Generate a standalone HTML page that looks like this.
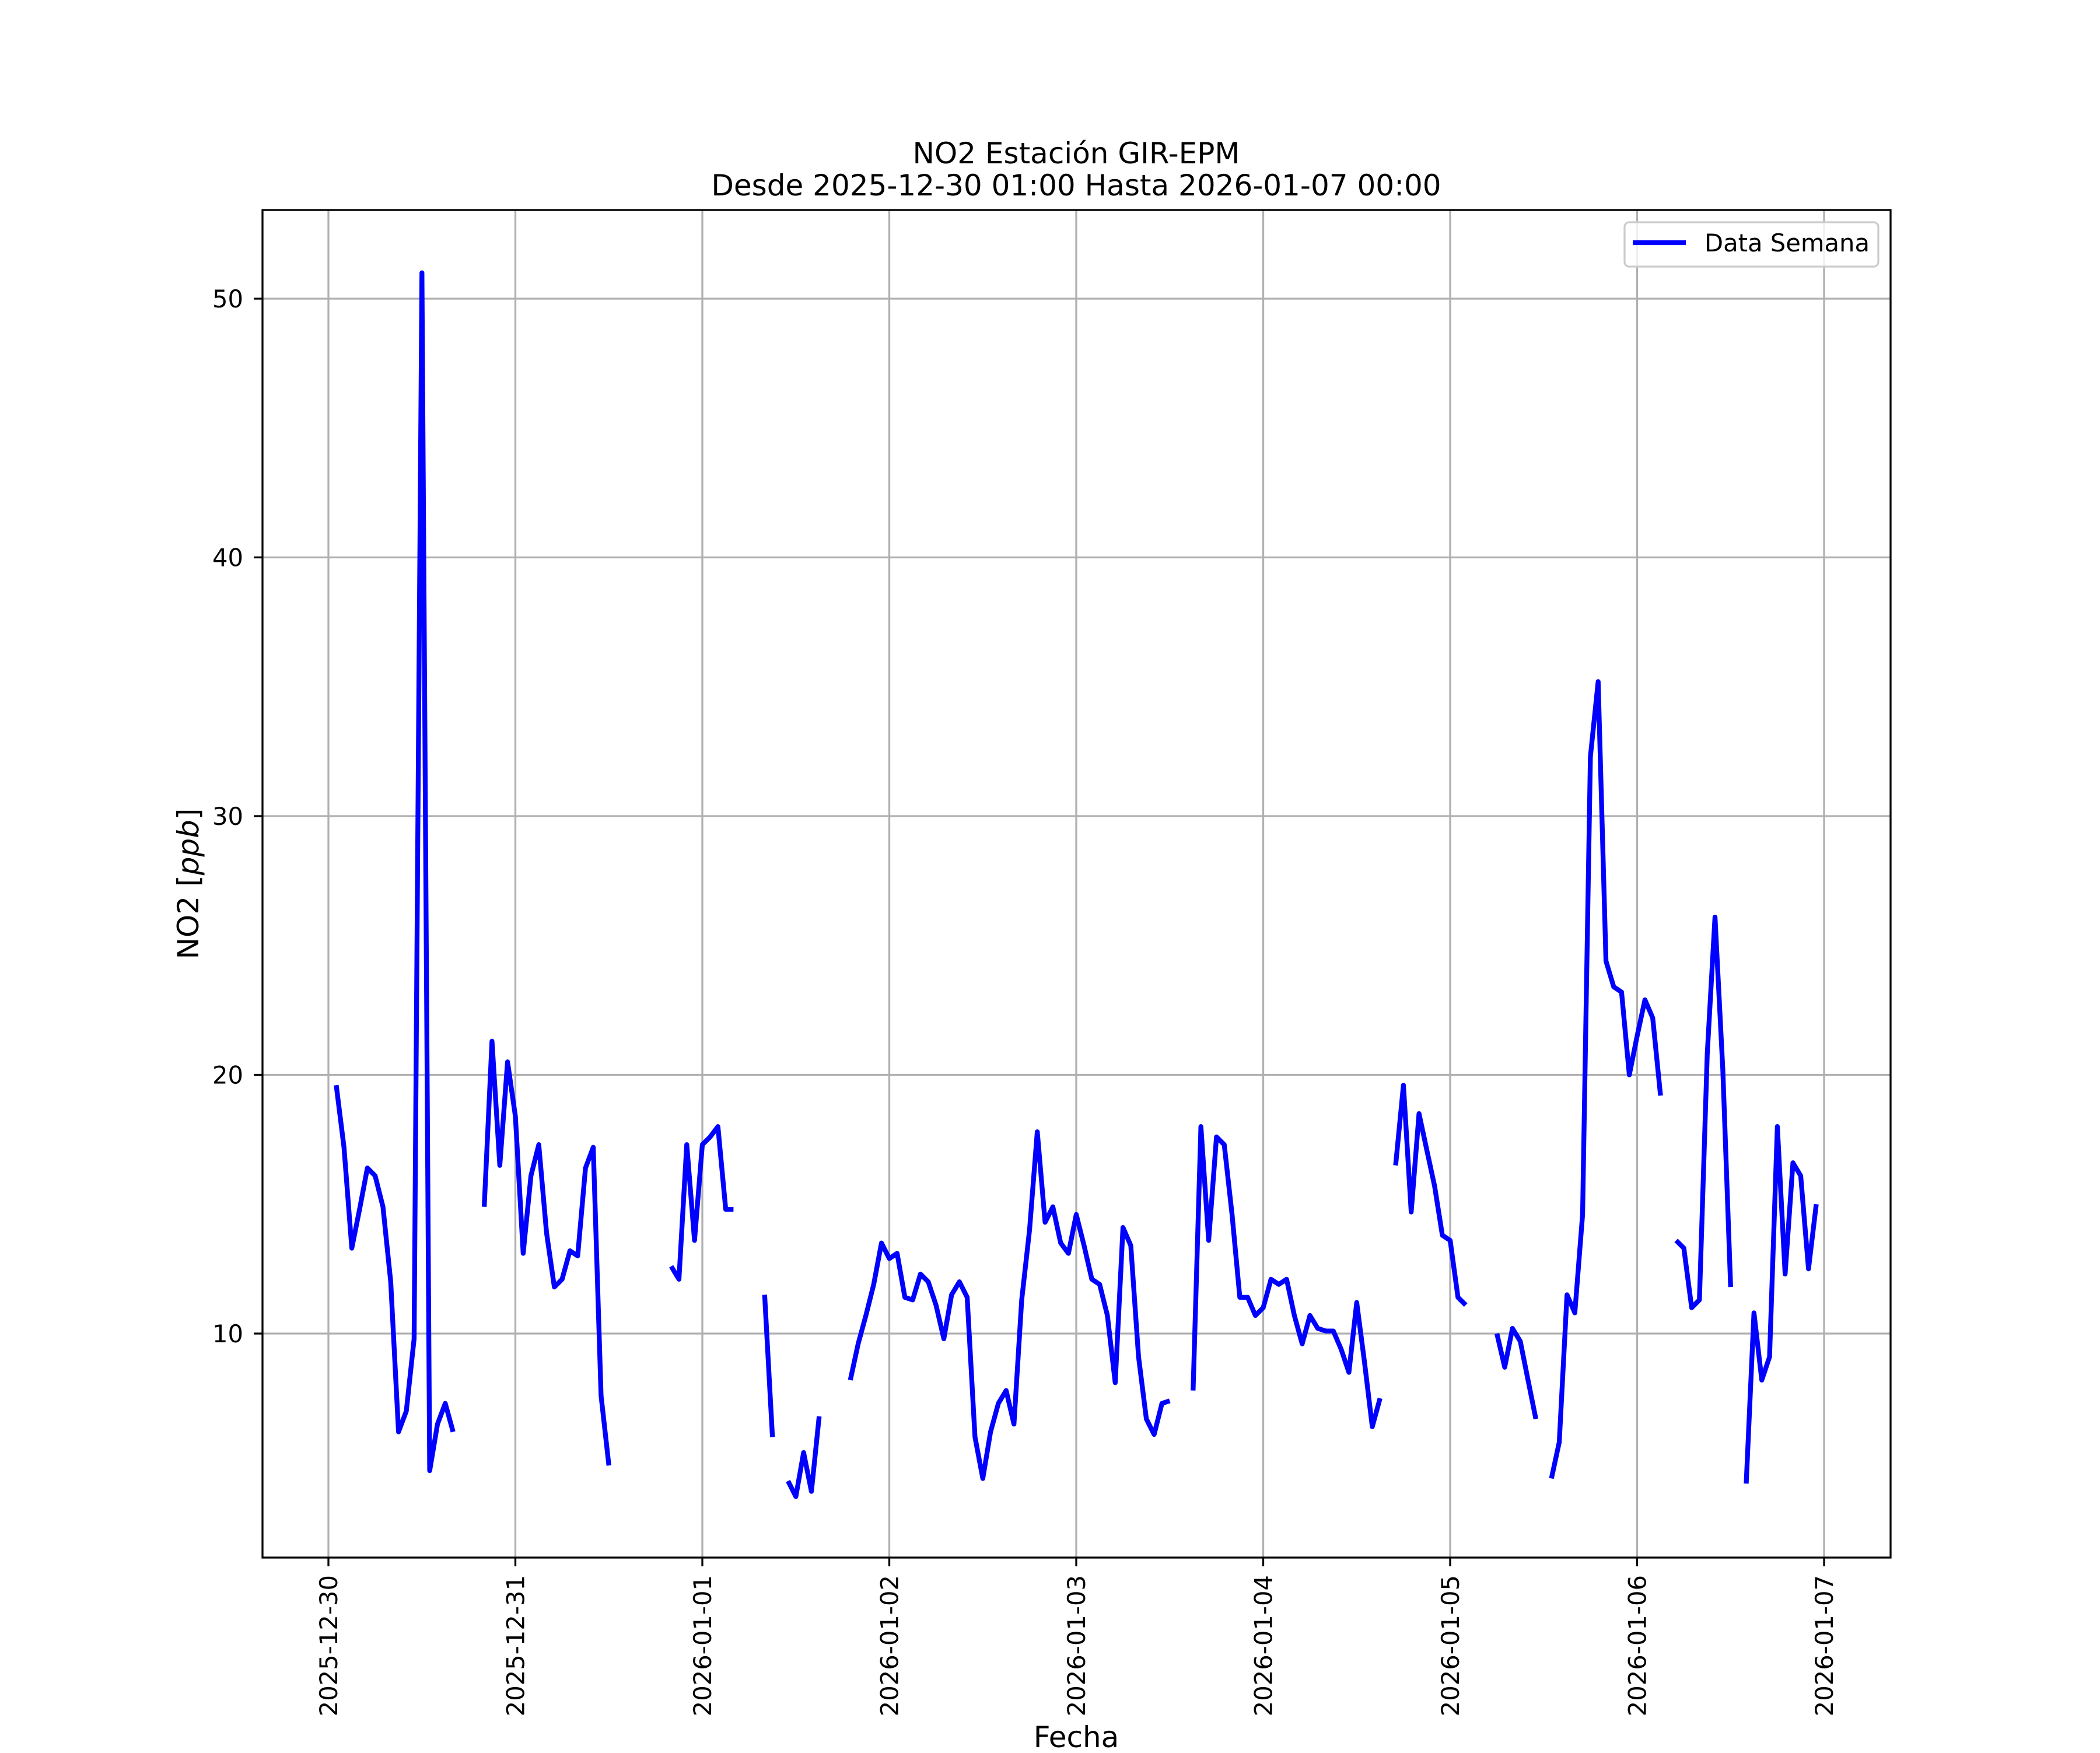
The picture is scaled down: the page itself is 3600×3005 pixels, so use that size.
<!DOCTYPE html>
<html><head><meta charset="utf-8"><style>
body{margin:0;background:#fff}
svg text{font-family:"DejaVu Sans","Liberation Sans",sans-serif}
</style></head><body>
<svg id="chart" width="3600" height="3000" viewBox="0 0 3600 3000" xmlns="http://www.w3.org/2000/svg">
<rect width="3600" height="3000" fill="#fff"/>
<text x="1845" y="280" font-size="50" text-anchor="middle">NO2 Estación GIR-EPM</text>
<text x="1845" y="335" font-size="50" text-anchor="middle">Desde 2025-12-30 01:00 Hasta 2026-01-07 00:00</text>
<g id="grid"></g>
<g id="series"></g>
<rect x="450" y="360" width="2791" height="2310" fill="none" stroke="#000" stroke-width="3.3"/>
<g id="ticks"></g>
<text x="1845" y="2995" font-size="50" text-anchor="middle">Fecha</text>
<text transform="translate(340,1515) rotate(-90)" font-size="50" text-anchor="middle">NO2 [<tspan font-style="italic">ppb</tspan>]</text>
<g>
<rect x="2785" y="381" width="435" height="76" rx="8" fill="#fff" fill-opacity="0.8" stroke="#ccc" stroke-width="3.3"/>
<line x1="2799" y1="416" x2="2890" y2="416" stroke="#0000ff" stroke-width="8.3"/>
<text x="2922" y="431" font-size="41.7">Data Semana</text>
</g>
</svg>
<script>
const dayLabels=["2025-12-30","2025-12-31","2026-01-01","2026-01-02","2026-01-03","2026-01-04","2026-01-05","2026-01-06","2026-01-07"];
const yTicks=[10,20,30,40,50];
const N=null;
const values=[N,
19.6,17.2,13.3,14.8,16.4,16.1,14.9,12.0,6.2,7.0,9.8,51.0,4.7,6.5,7.3,6.2,
N,N,N,
14.9,21.3,16.5,20.5,18.4,13.1,16.1,17.3,13.9,11.8,12.1,13.2,13.0,16.4,17.2,7.6,4.9,
N,N,N,N,N,N,N,
12.6,12.1,17.3,13.6,17.3,17.6,18.0,14.8,14.8,
N,N,N,
11.5,6.0,
N,
4.3,3.7,5.4,3.9,6.8,
N,N,N,
8.2,9.6,10.7,11.9,13.5,12.9,13.1,11.4,11.3,12.3,12.0,11.1,9.8,11.5,12.0,11.4,6.0,4.4,6.2,7.3,7.8,6.5,11.3,14.0,17.8,14.3,14.9,13.5,13.1,14.6,13.4,12.1,11.9,10.7,8.1,14.1,13.4,9.1,6.7,6.1,7.3,7.4,
N,N,
7.8,18.0,13.6,17.6,17.3,14.6,11.4,11.4,10.7,11.0,12.1,11.9,12.1,10.7,9.6,10.7,10.2,10.1,10.1,9.4,8.5,11.2,8.9,6.4,7.5,
N,
16.5,19.6,14.7,18.5,17.1,15.7,13.8,13.6,11.4,11.1,
N,N,N,
10.0,8.7,10.2,9.7,8.2,6.7,
N,
4.4,5.8,11.5,10.8,14.6,32.3,35.2,24.4,23.4,23.2,20.0,21.5,22.9,22.2,19.2,
N,
13.6,13.3,11.0,11.3,20.8,26.1,20.2,11.8,
N,
4.2,10.8,8.2,9.1,18.0,12.3,16.6,16.1,12.5,15.0,
N];
const NS="http://www.w3.org/2000/svg";
const X0=563,DAY=320.5,HOUR=DAY/24;
const xH=h=>X0+h*HOUR;
const yV=v=>512+(50-v)*44.35;
const grid=document.getElementById('grid'),ticks=document.getElementById('ticks'),series=document.getElementById('series');
function mk(tag,attrs,parent){const e=document.createElementNS(NS,tag);for(const k in attrs)e.setAttribute(k,attrs[k]);parent.appendChild(e);return e;}
dayLabels.forEach((d,i)=>{
 const x=xH(i*24);
 const g=mk('line',{x1:x,x2:x,y1:360,y2:2670,stroke:'#b0b0b0','stroke-width':3.3},grid);
 
 
 const t=mk('line',{x1:x,x2:x,y1:2670,y2:2685,stroke:'#000','stroke-width':3.3},ticks);
 
 
 const l=mk('text',{transform:`translate(${x+15},2700) rotate(-90)`,'font-size':41.7,'text-anchor':'end'},ticks);
 l.textContent=d;
 
 
});
yTicks.forEach(v=>{
 const y=yV(v);
 const g=mk('line',{x1:450,x2:3241,y1:y,y2:y,stroke:'#b0b0b0','stroke-width':3.3},grid);
 
 
 const t=mk('line',{x1:435,x2:450,y1:y,y2:y,stroke:'#000','stroke-width':3.3},ticks);
 
 
 const l=mk('text',{x:417,y:y+15,'font-size':41.7,'text-anchor':'end'},ticks);
 l.textContent=v;
 
 
});
let d='',pen=false;
values.forEach((v,h)=>{
 if(v===null){pen=false;return;}
 d+=(pen?'L':'M')+xH(h).toFixed(1)+' '+yV(v).toFixed(1)+' ';pen=true;
});
const p=mk('path',{d:d,fill:'none',stroke:'#0000ff','stroke-width':8.3,'stroke-linejoin':'round','stroke-linecap':'butt'},series);


</script>
</body></html>
